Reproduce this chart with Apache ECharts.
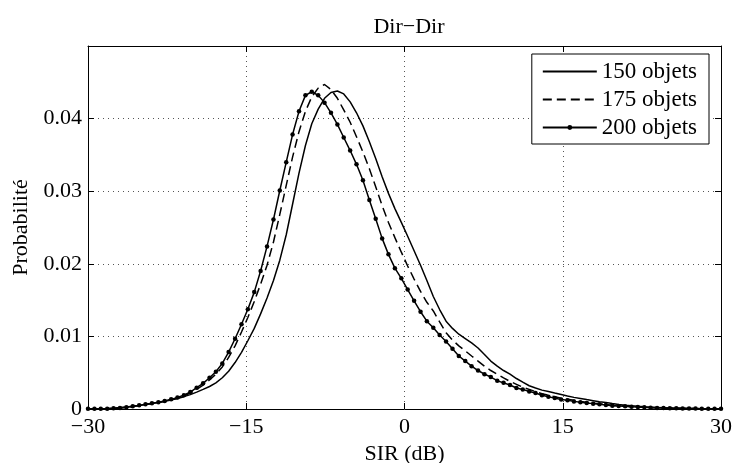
<!DOCTYPE html>
<html>
<head>
<meta charset="utf-8">
<script src="https://cdn.jsdelivr.net/npm/echarts@6/dist/echarts.min.js"></script>
<style>
html,body{margin:0;padding:0;background:#fff;}
#chart{width:733px;height:463px;}
</style>
</head>
<body>
<div id="chart"></div>
<script>
// SIR sample positions (dB)
var xs = [-30.00,-29.39,-28.79,-28.18,-27.58,-26.97,-26.36,-25.76,-25.15,-24.55,
-23.94,-23.33,-22.73,-22.12,-21.52,-20.91,-20.30,-19.70,-19.09,-18.48,
-17.88,-17.27,-16.67,-16.06,-15.45,-14.85,-14.24,-13.64,-13.03,-12.42,
-11.82,-11.21,-10.61,-10.00,-9.39,-8.79,-8.18,-7.58,-6.97,-6.36,
-5.76,-5.15,-4.55,-3.94,-3.33,-2.73,-2.12,-1.52,-0.91,-0.30,
0.30,0.91,1.52,2.12,2.73,3.33,3.94,4.55,5.15,5.76,
6.36,6.97,7.58,8.18,8.79,9.39,10.00,10.61,11.21,11.82,
12.42,13.03,13.64,14.24,14.85,15.45,16.06,16.67,17.27,17.88,
18.48,19.09,19.70,20.30,20.91,21.52,22.12,22.73,23.33,23.94,
24.55,25.15,25.76,26.36,26.97,27.58,28.18,28.79,29.39,30.00];

var s150 = [0.00001,0.00002,0.00004,0.00007,0.00012,0.0002,0.00028,0.00037,0.00048,0.00062,
0.00076,0.0009,0.00106,0.00124,0.00145,0.0017,0.00198,0.00232,0.0027,0.0031,
0.0036,0.0043,0.0052,0.0064,0.0078,0.0094,0.0111,0.0131,0.0153,0.0177,
0.0205,0.0240,0.0282,0.0325,0.0363,0.0393,0.0413,0.0428,0.0436,0.0438,
0.0434,0.0423,0.0408,0.0390,0.0368,0.0345,0.0320,0.0297,0.0276,0.0257,
0.0238,0.0218,0.0198,0.0177,0.0155,0.0137,0.0121,0.0111,0.0103,0.0097,
0.0091,0.0084,0.0075,0.0066,0.0059,0.0053,0.0048,0.0042,0.0037,0.0032,
0.0029,0.0026,0.0024,0.0022,0.0020,0.0018,0.0016,0.00145,0.0013,0.00115,
0.0010,0.00088,0.00075,0.00063,0.00053,0.00044,0.00037,0.00031,0.00026,0.00022,
0.00018,0.00015,0.00012,0.0001,0.00008,0.00007,0.00005,0.00004,0.00003,0.00002];

var s175 = [0.00001,0.00002,0.00003,0.00005,0.00009,0.00015,0.00024,0.00035,0.00048,0.00062,
0.00076,0.0009,0.00107,0.00127,0.0015,0.0018,0.0022,0.0027,0.0033,0.0040,
0.0048,0.0058,0.0071,0.0087,0.0106,0.0126,0.0148,0.0172,0.0198,0.0230,
0.0268,0.0308,0.0347,0.0382,0.0410,0.0430,0.0442,0.0447,0.0440,0.0428,
0.0412,0.0395,0.0375,0.0354,0.0331,0.0306,0.0280,0.0257,0.0236,0.0216,
0.0197,0.0179,0.0162,0.0147,0.0135,0.0120,0.0105,0.0095,0.0087,0.0080,
0.0073,0.0066,0.0059,0.0053,0.0048,0.0043,0.0038,0.0034,0.0030,0.0027,
0.0024,0.0021,0.0019,0.0017,0.0015,0.00135,0.0012,0.00105,0.00093,0.00082,
0.00071,0.00061,0.00052,0.00045,0.00039,0.00033,0.00028,0.00023,0.00019,0.00016,
0.00013,0.00011,0.00009,0.00008,0.00006,0.00005,0.00004,0.00003,0.00003,0.00002];

var s200 = [0.00002,0.00002,0.00003,0.00005,0.0001,0.00015,0.00025,0.00037,0.0005,0.00065,
0.00078,0.00092,0.0011,0.00133,0.0016,0.0019,0.00234,0.00293,0.00353,0.0043,
0.00513,0.00628,0.00784,0.00967,0.01168,0.01375,0.0161,0.0190,0.0224,0.0261,
0.0301,0.0340,0.0378,0.0410,0.0432,0.0437,0.0432,0.0422,0.0408,0.0392,
0.0374,0.0356,0.0337,0.0315,0.0288,0.0262,0.0235,0.0213,0.0194,0.0180,
0.01645,0.0149,0.0134,0.0121,0.0112,0.0102,0.0093,0.0083,0.0073,0.0066,
0.0059,0.0053,0.0048,0.0044,0.0039,0.0036,0.0033,0.0029,0.0027,0.0024,
0.0022,0.0019,0.0017,0.0015,0.0013,0.0012,0.00105,0.00092,0.00083,0.00074,
0.00064,0.00055,0.00046,0.00042,0.00037,0.00032,0.00028,0.00023,0.00018,0.00014,
0.00013,0.0001,0.0001,0.00008,0.00007,0.00006,0.00005,0.00004,0.00003,0.00003];

var seriesNames = ['150 objets', '175 objets', '200 objets'];
var xTicks = [-30, -15, 0, 15, 30];
var yTicks = [0, 0.01, 0.02, 0.03, 0.04];

function pairs(ys){ return xs.map(function(x,i){ return [x, ys[i]]; }); }

var FONT = '"Liberation Serif", "DejaVu Serif", serif';
var FS = 22;
var chart = echarts.init(document.getElementById('chart'), null, {renderer:'canvas'});

var gridDots = {show:true, lineStyle:{color:'#555', width:1, type:[1,4]}};
var noSym = {color:'rgba(0,0,0,0)', borderWidth:0};

chart.setOption({
  animation:false,
  backgroundColor:'#fff',
  title:{text:'Dir\u2212Dir', left:404, textAlign:'center', top:11,
    textStyle:{fontFamily:FONT, fontSize:FS, fontWeight:'normal', color:'#000'}},
  grid:{left:88, right:12, top:46, bottom:54, containLabel:false, outerBoundsMode:'none'},
  legend:{
    orient:'vertical', right:24, top:54,
    data:[
      {name:seriesNames[0], itemStyle:noSym},
      {name:seriesNames[1], itemStyle:noSym},
      {name:seriesNames[2]}
    ],
    backgroundColor:'#fff', borderColor:'#000', borderWidth:1,
    padding:[6,12,5,10], itemGap:5, itemWidth:54, itemHeight:6,
    textStyle:{fontFamily:FONT, fontSize:23, color:'#000'}
  },
  xAxis:[{
    type:'value', min:-30, max:30, interval:15, position:'bottom',
    name:'SIR (dB)', nameLocation:'middle', nameGap:27,
    nameTextStyle:{fontFamily:FONT, fontSize:FS, color:'#000'},
    axisLine:{show:true, onZero:false, lineStyle:{color:'#000', width:1}},
    axisTick:{show:true, inside:true, length:6, lineStyle:{color:'#000'}},
    axisLabel:{fontFamily:FONT, fontSize:FS, color:'#000', margin:7,
      formatter:function(v){ return xTicks.indexOf(v) >= 0 ? String(v).replace('-', '\u2212') : ''; }},
    splitLine:gridDots
  },{
    type:'value', min:-30, max:30, interval:15, position:'top',
    axisLine:{show:true, onZero:false, lineStyle:{color:'#000', width:1}},
    axisTick:{show:true, inside:true, length:6, lineStyle:{color:'#000'}},
    axisLabel:{show:false}, splitLine:{show:false}
  }],
  yAxis:[{
    type:'value', min:0, max:0.05, interval:0.01, position:'left',
    name:'Probabilit\u00e9', nameLocation:'middle', nameGap:56, nameRotate:90,
    nameTextStyle:{fontFamily:FONT, fontSize:FS, color:'#000'},
    axisLine:{show:true, onZero:false, lineStyle:{color:'#000', width:1}},
    axisTick:{show:true, inside:true, length:6, lineStyle:{color:'#000'}},
    axisLabel:{fontFamily:FONT, fontSize:FS, color:'#000', margin:6,
      formatter:function(v){
        var r = Math.round(v*100)/100;
        if (yTicks.indexOf(r) < 0) return '';
        return r === 0 ? '0' : r.toFixed(2);
      }},
    splitLine:gridDots
  },{
    type:'value', min:0, max:0.05, interval:0.01, position:'right',
    axisLine:{show:true, onZero:false, lineStyle:{color:'#000', width:1}},
    axisTick:{show:true, inside:true, length:6, lineStyle:{color:'#000'}},
    axisLabel:{show:false}, splitLine:{show:false}
  }],
  series:[
    {name:seriesNames[0], type:'line', data:pairs(s150), showSymbol:false, symbol:'none',
      lineStyle:{color:'#000', width:1.5}, itemStyle:{color:'#000'}, z:3},
    {name:seriesNames[1], type:'line', data:pairs(s175), showSymbol:false, symbol:'none',
      lineStyle:{color:'#000', width:1.5, type:[9,5]}, itemStyle:{color:'#000'}, z:3},
    {name:seriesNames[2], type:'line', data:pairs(s200), symbol:'circle', symbolSize:4.5,
      showAllSymbol:true,
      lineStyle:{color:'#000', width:1.5}, itemStyle:{color:'#000'}, z:4}
  ]
});
</script>
</body>
</html>
